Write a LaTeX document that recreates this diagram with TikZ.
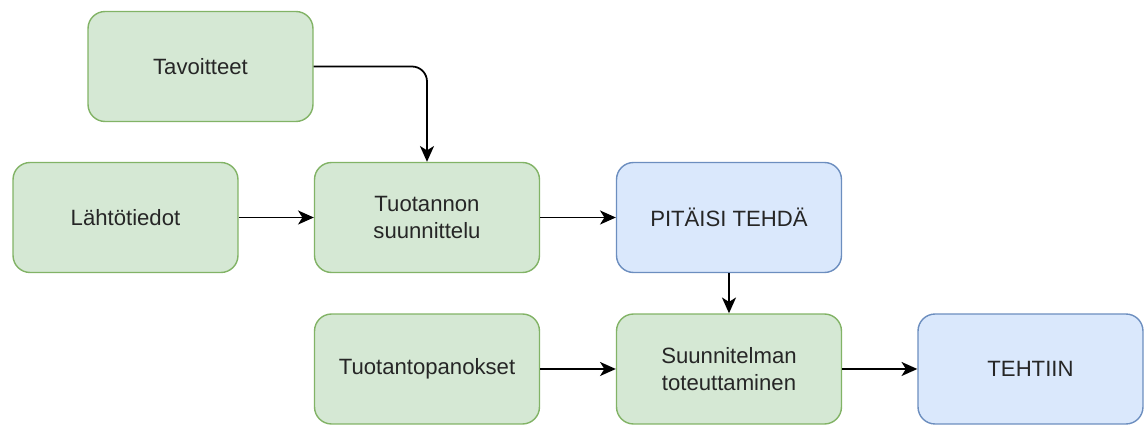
\documentclass[tikz,border=0pt]{standalone}
\usepackage{fontspec}
\setmainfont{Liberation Sans}
\usetikzlibrary{arrows.meta}
\definecolor{greenfill}{HTML}{D5E8D4}
\definecolor{greenline}{HTML}{82B366}
\definecolor{bluefill}{HTML}{DAE8FC}
\definecolor{blueline}{HTML}{6C8EBF}

\begin{document}
\begin{tikzpicture}[x=0.02cm, y=-0.02cm,
	box/.style={draw=greenline, fill=greenfill, line width=0.8pt, rounded corners=0.34cm,
		minimum width=4.5cm, minimum height=2.2cm, align=center, text=black!85,
		font=\fontsize{12.6}{15.5}\selectfont},
	bluebox/.style={box, draw=blueline, fill=bluefill},
	link/.style={line width=1pt, -{Stealth[length=9pt, width=8pt, inset=2.5pt]}}]
			%%%%% START %%%%%
			
			\useasboundingbox (0, 0) rectangle (1144, 425);
			
			\node[box] (tavoitteet) at (200.5, 66.5) {Tavoitteet};
			\node[box] (lahto) at (125.5, 217.5) {Lähtötiedot};
			\node[box] (suunnittelu) at (427, 217.5) {Tuotannon\\suunnittelu};
			\node[bluebox] (pitaisi) at (729, 217.5) {PITÄISI TEHDÄ};
			
			\node[box] (panokset) at (427, 369) {Tuotantopanokset};
			\node[box] (toteutus) at (729, 369) {Suunnitelman\\toteuttaminen};
			\node[bluebox] (tehtiin) at (1030.5, 369) {TEHTIIN};
			
			\draw[link, rounded corners=0.3cm] (tavoitteet.east) -| (suunnittelu.north);
			\draw[link] (lahto) -- (suunnittelu);
			\draw[link] (suunnittelu) -- (pitaisi);
			\draw[link] (pitaisi) -- (toteutus);
			\draw[link] (panokset) -- (toteutus);
			\draw[link] (toteutus) -- (tehtiin);
			
			%%%%% END %%%%%
\end{tikzpicture}
\end{document}
